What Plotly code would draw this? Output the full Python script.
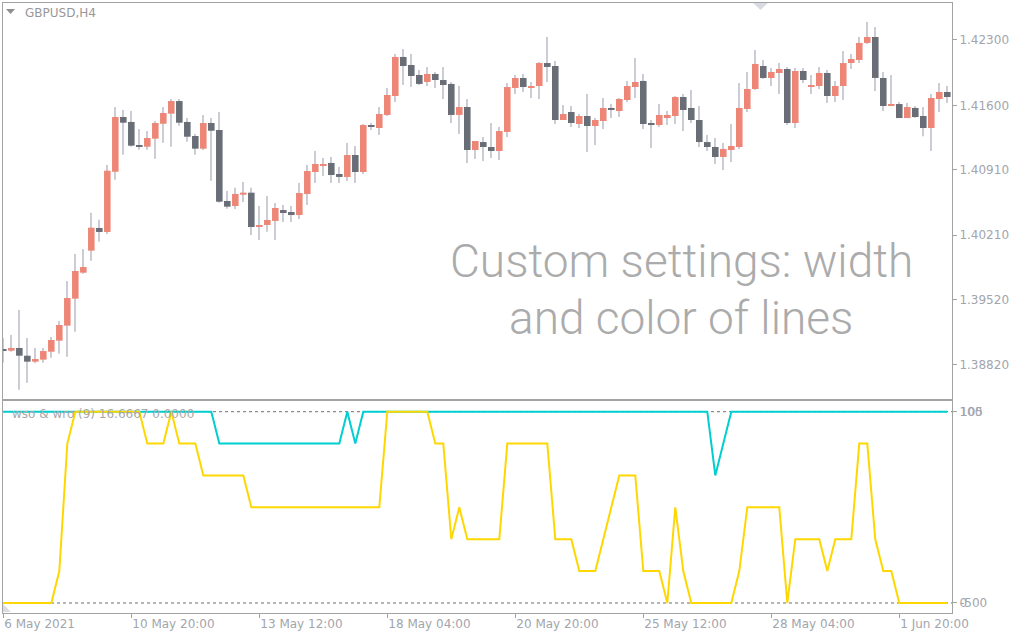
import plotly.graph_objects as go

# ---- GBPUSD H4 candles (bar index 0 = 6 May 2021 04:00) ----
bar_idx = list(range(119))

open_ = [1.38991, 1.38973, 1.39002, 1.38919, 1.38855, 1.38877, 1.38962, 1.39080, 1.39241, 1.39530,
         1.39808, 1.40044, 1.40287, 1.40244, 1.40889, 1.41475, 1.41422, 1.41175, 1.41157, 1.41243,
         1.41403, 1.41511, 1.41646, 1.41422, 1.41272, 1.41136, 1.41411, 1.41336, 1.40576, 1.40522,
         1.40643, 1.40665, 1.40297, 1.40319, 1.40362, 1.40479, 1.40458, 1.40426, 1.40651, 1.40886,
         1.40961, 1.40983, 1.40865, 1.40833, 1.41068, 1.40886, 1.41389, 1.41357, 1.41497, 1.41700,
         1.42118, 1.42032, 1.41925, 1.41850, 1.41936, 1.41871, 1.41829, 1.41497, 1.41582, 1.41122,
         1.41207, 1.41154, 1.41111, 1.41315, 1.41786, 1.41893, 1.41796, 1.41807, 1.42053, 1.42021,
         1.41443, 1.41529, 1.41400, 1.41486, 1.41379, 1.41432, 1.41572, 1.41539, 1.41657, 1.41796,
         1.41861, 1.41411, 1.41389, 1.41464, 1.41486, 1.41689, 1.41572, 1.41443, 1.41207, 1.41154,
         1.41047, 1.41122, 1.41154, 1.41561, 1.41775, 1.42021, 1.41893, 1.41946, 1.41989, 1.41411,
         1.41968, 1.41796, 1.41807, 1.41946, 1.41700, 1.41807, 1.42053, 1.42086, 1.42268, 1.42332,
         1.41893, 1.41593, 1.41614, 1.41464, 1.41572, 1.41486, 1.41357, 1.41668, 1.41743]

high = [1.39112, 1.39141, 1.39409, 1.39109, 1.39002, 1.39002, 1.39119, 1.39291, 1.39719, 1.40008,
        1.40062, 1.40450, 1.40375, 1.40961, 1.41582, 1.41550, 1.41539, 1.41347, 1.41325, 1.41432,
        1.41582, 1.41668, 1.41668, 1.41464, 1.41293, 1.41497, 1.41464, 1.41529, 1.40683, 1.40718,
        1.40779, 1.40718, 1.40522, 1.40629, 1.40554, 1.40533, 1.40522, 1.40768, 1.40961, 1.41111,
        1.41036, 1.41047, 1.40940, 1.41197, 1.41165, 1.41400, 1.41411, 1.41582, 1.41786, 1.42150,
        1.42203, 1.42150, 1.41978, 1.42011, 1.41957, 1.42011, 1.41850, 1.41807, 1.41668, 1.41218,
        1.41261, 1.41411, 1.41368, 1.41839, 1.41925, 1.41936, 1.41850, 1.42064, 1.42332, 1.42075,
        1.41604, 1.41593, 1.41507, 1.41721, 1.41464, 1.41679, 1.41614, 1.41679, 1.41861, 1.42107,
        1.41936, 1.41443, 1.41614, 1.41539, 1.41700, 1.41721, 1.41764, 1.41593, 1.41282, 1.41250,
        1.41197, 1.41400, 1.41839, 1.41957, 1.42193, 1.42086, 1.42000, 1.42053, 1.42011, 1.42000,
        1.42000, 1.41925, 1.42011, 1.41978, 1.41861, 1.42182, 1.42150, 1.42332, 1.42492, 1.42439,
        1.41957, 1.41925, 1.41636, 1.41625, 1.41593, 1.41582, 1.41721, 1.41839, 1.41807]

low = [1.38844, 1.38962, 1.38555, 1.38630, 1.38838, 1.38844, 1.38898, 1.38941, 1.38908, 1.39176,
       1.39797, 1.39936, 1.40140, 1.40222, 1.40804, 1.41071, 1.41157, 1.41125, 1.41125, 1.41029,
       1.41200, 1.41157, 1.41382, 1.41211, 1.41071, 1.41122, 1.40793, 1.40557, 1.40493, 1.40490,
       1.40565, 1.40212, 1.40158, 1.40247, 1.40158, 1.40351, 1.40351, 1.40383, 1.40533, 1.40768,
       1.40843, 1.40768, 1.40768, 1.40790, 1.40768, 1.40865, 1.41336, 1.41282, 1.41486, 1.41636,
       1.41818, 1.41796, 1.41818, 1.41807, 1.41786, 1.41668, 1.41411, 1.41293, 1.40983, 1.41025,
       1.41004, 1.41036, 1.41015, 1.41261, 1.41721, 1.41743, 1.41679, 1.41668, 1.41850, 1.41400,
       1.41443, 1.41368, 1.41357, 1.41100, 1.41175, 1.41347, 1.41464, 1.41475, 1.41636, 1.41679,
       1.41347, 1.41143, 1.41368, 1.41389, 1.41400, 1.41325, 1.41411, 1.41154, 1.41111, 1.40972,
       1.40908, 1.40993, 1.41133, 1.41529, 1.41764, 1.41882, 1.41807, 1.41721, 1.41389, 1.41357,
       1.41839, 1.41721, 1.41775, 1.41625, 1.41636, 1.41657, 1.41989, 1.42053, 1.42257, 1.41754,
       1.41539, 1.41593, 1.41464, 1.41464, 1.41464, 1.41270, 1.41111, 1.41529, 1.41625]

close = [1.38973, 1.39002, 1.38919, 1.38855, 1.38884, 1.38969, 1.39087, 1.39248, 1.39537, 1.39826,
         1.39869, 1.40290, 1.40244, 1.40900, 1.41475, 1.41414, 1.41168, 1.41157, 1.41250, 1.41411,
         1.41518, 1.41646, 1.41414, 1.41264, 1.41136, 1.41411, 1.41328, 1.40568, 1.40515, 1.40651,
         1.40665, 1.40297, 1.40319, 1.40372, 1.40501, 1.40447, 1.40426, 1.40661, 1.40897, 1.40972,
         1.40972, 1.40854, 1.40833, 1.41068, 1.40886, 1.41389, 1.41368, 1.41507, 1.41711, 1.42118,
         1.42021, 1.41914, 1.41829, 1.41936, 1.41871, 1.41818, 1.41497, 1.41582, 1.41122, 1.41218,
         1.41154, 1.41111, 1.41325, 1.41796, 1.41893, 1.41796, 1.41807, 1.42053, 1.42011, 1.41443,
         1.41507, 1.41411, 1.41486, 1.41379, 1.41443, 1.41572, 1.41550, 1.41668, 1.41807, 1.41850,
         1.41400, 1.41389, 1.41497, 1.41497, 1.41689, 1.41550, 1.41443, 1.41207, 1.41154, 1.41047,
         1.41133, 1.41165, 1.41572, 1.41775, 1.42043, 1.41893, 1.41957, 1.41989, 1.41411, 1.41968,
         1.41871, 1.41818, 1.41946, 1.41700, 1.41807, 1.42053, 1.42096, 1.42268, 1.42332, 1.41893,
         1.41593, 1.41614, 1.41464, 1.41582, 1.41475, 1.41357, 1.41679, 1.41743, 1.41689]

# ---- "wso & wro (9)" indicator lines ----
wso = [100] * 27 + [83.3333] * 16 + [100, 83.3333] + [100] * 44 + [66.6667, 83.3333] + [100] * 28

wro = ([0] * 7 + [16.6667, 83.3333] + [100] * 9 + [83.3333] * 3 + [100] + [83.3333] * 3
       + [66.6667] * 6 + [50] * 17 + [100] * 6 + [83.3333] * 2 + [33.3333, 50] + [33.3333] * 5
       + [83.3333] * 6 + [33.3333] * 3 + [16.6667] * 3 + [33.3333, 50] + [66.6667] * 3
       + [16.6667] * 3 + [0, 50, 16.6667] + [0] * 6 + [16.6667] + [50] * 5 + [0]
       + [33.3333] * 4 + [16.6667] + [33.3333] * 3 + [83.3333] * 2 + [33.3333, 16.6667, 16.6667]
       + [0] * 7)

price_ticks = [1.42300, 1.41600, 1.40910, 1.40210, 1.39520, 1.38820]
time_tick_bars = [0, 16, 32, 48, 64, 80, 96, 112]
time_tick_text = ["6 May 2021", "10 May 20:00", "13 May 12:00", "18 May 04:00",
                  "20 May 20:00", "25 May 12:00", "28 May 04:00", "1 Jun 20:00"]
osc_levels = [0, 100]

BULL = "#EE8677"
BEAR = "#696D76"
WICK = "#CBCCD4"
FRAME = "#A3A3A3"
TEXT = "#A2A5AD"
FONT = "DejaVu Sans"

body_base = [min(o, c) for o, c in zip(open_, close)]
body_h = [max(abs(c - o), 0.000022) for o, c in zip(open_, close)]
body_col = [BULL if c >= o else BEAR for o, c in zip(open_, close)]

fig = go.Figure()

# wicks drawn first so the bodies sit on top of them
fig.add_trace(go.Bar(x=bar_idx, y=[h - l for h, l in zip(high, low)], base=low,
                     width=0.13, marker=dict(color=WICK, line=dict(width=0)),
                     xaxis="x", yaxis="y", hoverinfo="skip"))
fig.add_trace(go.Bar(x=bar_idx, y=body_h, base=body_base, width=0.82,
                     marker=dict(color=body_col, line=dict(width=0)),
                     xaxis="x", yaxis="y", hoverinfo="skip"))

fig.add_trace(go.Scatter(x=bar_idx, y=wso, mode="lines",
                         line=dict(color="#00CED1", width=2),
                         xaxis="x2", yaxis="y2", hoverinfo="skip"))
fig.add_trace(go.Scatter(x=bar_idx, y=wro, mode="lines",
                         line=dict(color="#FFD700", width=2),
                         xaxis="x2", yaxis="y2", hoverinfo="skip"))

W, H = 1024, 640
x_dom = [3 / W, 952 / W]
x_rng = [-0.04, 118.59]

axis_common = dict(showline=True, mirror=True, linecolor=FRAME, linewidth=1,
                   showgrid=False, zeroline=False, fixedrange=True, automargin=False)

fig.update_layout(
    width=W, height=H,
    margin=dict(l=0, r=0, t=0, b=0, autoexpand=False),
    paper_bgcolor="white", plot_bgcolor="white",
    showlegend=False, barmode="overlay",
    xaxis=dict(domain=x_dom, range=x_rng, anchor="y", showticklabels=False,
               ticks="", **axis_common),
    yaxis=dict(domain=[1 - 399 / H, 1 - 3 / H], range=[1.384555, 1.426958],
               anchor="x", side="right", tickvals=price_ticks,
               ticktext=[f"{v:.5f}" for v in price_ticks],
               ticks="outside", ticklen=4, tickcolor=FRAME,
               tickfont=dict(family=FONT, size=12, color=TEXT), **axis_common),
    xaxis2=dict(domain=x_dom, range=x_rng, anchor="y2",
                tickvals=time_tick_bars, ticktext=time_tick_text,
                ticks="outside", ticklen=4, tickcolor=FRAME,
                ticklabelposition="outside right",
                tickfont=dict(family=FONT, size=12, color=TEXT), **axis_common),
    yaxis2=dict(domain=[1 - 613 / H, 1 - 401 / H], range=[-5.23, 105.59],
                anchor="x2", side="right", tickvals=osc_levels,
                ticktext=["0", "100"], ticks="outside", ticklen=4, tickcolor=FRAME,
                tickfont=dict(family=FONT, size=12, color=TEXT), **axis_common),
)

# dashed level lines of the oscillator
for lv in osc_levels:
    fig.add_shape(type="line", xref="x2", yref="y2", x0=x_rng[0], x1=x_rng[1], y0=lv, y1=lv,
                  line=dict(color="#6E6E6E", width=1, dash="3px,3px"), layer="below")

# symbol header with its drop-down marker
fig.add_shape(type="path", xref="paper", yref="paper",
              path=f"M {6/W} {1-9/H} L {15/W} {1-9/H} L {10.5/W} {1-14/H} Z",
              fillcolor="#8E8E8E", line=dict(width=0))
fig.add_annotation(x=23 / W, y=1 - 13 / H, xref="paper", yref="paper", text="GBPUSD,H4",
                   showarrow=False, xanchor="left", yanchor="middle",
                   font=dict(family=FONT, size=12, color="#989898"))

# chart shift marker at the top edge
fig.add_shape(type="path", xref="paper", yref="paper",
              path=f"M {753/W} {1-3/H} L {768/W} {1-3/H} L {760.5/W} {1-10/H} Z",
              fillcolor="#D9DBE1", line=dict(width=0))

# scroll corner marker at the bottom-left of the oscillator window
fig.add_shape(type="path", xref="paper", yref="paper",
              path=f"M {3/W} {1-604/H} L {3/W} {1-612/H} L {11/W} {1-612/H} Z",
              fillcolor="#DADCE2", line=dict(width=0))

# oscillator caption
fig.add_annotation(x=10 / W, y=1 - 414 / H, xref="paper", yref="paper",
                   text="wso & wro (9) 16.6667 0.0000", showarrow=False,
                   xanchor="left", yanchor="middle",
                   font=dict(family=FONT, size=12, color="#A8A8A8"))

# scale extremes of the oscillator window
fig.add_annotation(x=958 / W, y=1 - 412 / H, xref="paper", yref="paper", text="105",
                   showarrow=False, xanchor="left", yanchor="middle",
                   font=dict(family=FONT, size=12, color=TEXT))
fig.add_annotation(x=958 / W, y=1 - 603 / H, xref="paper", yref="paper", text="-500",
                   showarrow=False, xanchor="left", yanchor="middle",
                   font=dict(family=FONT, size=12, color=TEXT))

# overlay caption
for txt, yy in [("Custom settings: width", 261), ("and color of lines", 318)]:
    fig.add_annotation(x=681 / W, y=1 - yy / H, xref="paper", yref="paper", text=txt,
                       showarrow=False, xanchor="center", yanchor="middle",
                       font=dict(family="Roboto Slab, Roboto", size=46, color="#ABABAB",
                                 weight=300))

fig.write_html("out.html")
